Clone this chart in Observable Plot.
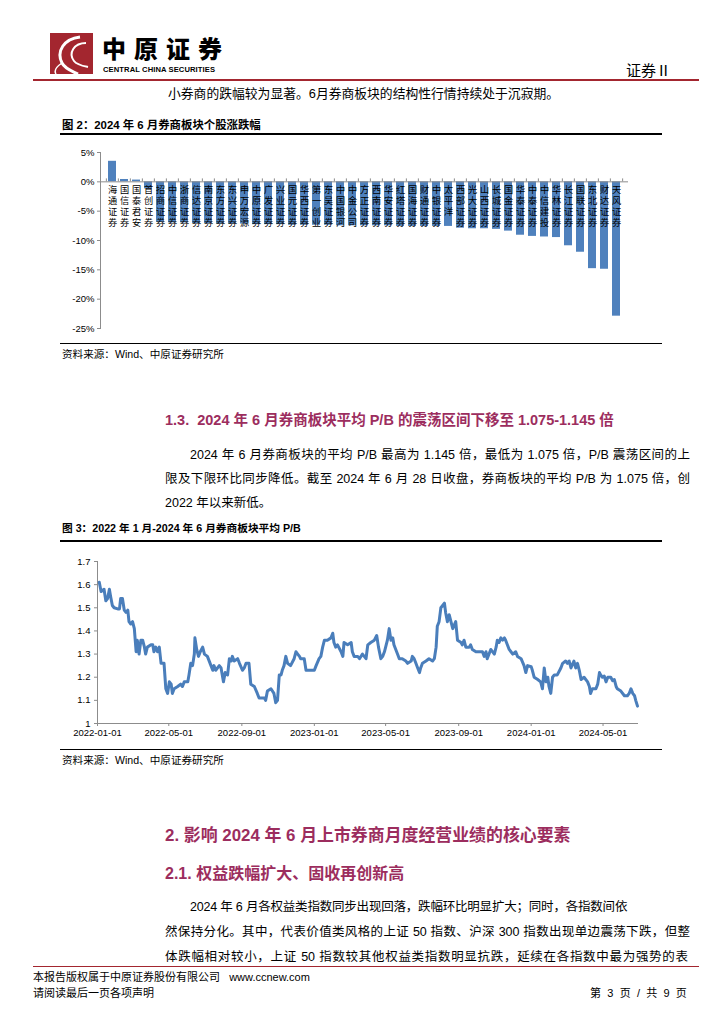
<!DOCTYPE html>
<html>
<head>
<meta charset="utf-8">
<script src="https://cdn.jsdelivr.net/npm/d3@7"></script>
<script src="https://cdn.jsdelivr.net/npm/@observablehq/plot@0.6"></script>
<style>
  html, body { margin: 0; padding: 0; background: #fff; }
  body { width: 724px; height: 1024px; position: relative; overflow: hidden;
         font-family: "Liberation Sans", "Noto Sans CJK SC", sans-serif; color: #000; }
  .abs { position: absolute; white-space: nowrap; }
  .line { position: absolute; }
  .jl { position: absolute; white-space: normal; text-align: justify; text-align-last: justify; }
  .head { color: #9c2d5e; font-weight: bold; }
  .figt { font-weight: bold; }
  .src { font-size: 10.6px; }
  .para { font-size: 12.5px; }
</style>
</head>
<body>
<!-- header -->
<svg class="abs" style="left:50px;top:33px" width="43" height="41" viewBox="0 0 43 41">
  <rect width="43" height="41" fill="#a3262f"/>
  <path d="M30 4 C14 6, 6 18, 12 30 C15 36, 22 38, 28 41" stroke="#fff" stroke-width="3" fill="none"/>
  <path d="M36 10 C24 10, 18 20, 24 28 C27 32, 33 33, 38 34" stroke="#fff" stroke-width="2" fill="none"/>
  <path d="M12 30 C6 34, 4 38, 6 41" stroke="#fff" stroke-width="1.5" fill="none"/>
</svg>
<div class="abs" style="left:102px;top:36px;font-size:24px;font-weight:900;letter-spacing:8px;font-family:'Noto Sans CJK SC';line-height:24px;">中原证券</div>
<div class="abs" style="left:103px;top:66px;font-size:7.6px;font-weight:bold;line-height:8px;letter-spacing:0.1px;">CENTRAL CHINA SECURITIES</div>
<div class="abs" style="left:626px;top:60px;font-size:15px;line-height:20px;font-family:'Noto Sans CJK SC';">证券Ⅱ</div>
<div class="line" style="left:33px;top:79px;width:666px;height:2px;background:#a3262f;"></div>

<div class="abs para" style="left:168px;top:85px;line-height:18px;font-size:12.8px;">小券商的跌幅较为显著。6月券商板块的结构性行情持续处于沉寂期。</div>

<!-- figure 2 -->
<div class="abs figt" style="left:62px;top:117px;line-height:16px;font-size:11.4px;">图 2：2024 年 6 月券商板块个股涨跌幅</div>
<div class="line" style="left:60px;top:133px;width:602px;height:2px;background:#000;"></div>
<div id="chart1" class="abs" style="left:60px;top:140px;"></div>
<div class="line" style="left:60px;top:343px;width:602px;height:1px;background:#000;"></div>
<div class="abs src" style="left:62px;top:347px;line-height:14px;">资料来源：Wind、中原证券研究所</div>

<!-- section 1.3 -->
<div class="abs head" style="left:165px;top:410px;font-size:14.5px;line-height:20px;">1.3.&nbsp;&nbsp;2024 年 6 月券商板块平均 P/B 的震荡区间下移至 1.075-1.145 倍</div>
<div class="jl para" style="left:190px;top:446px;width:500px;line-height:18px;">2024 年 6 月券商板块的平均 P/B 最高为 1.145 倍，最低为 1.075 倍，P/B 震荡区间的上</div>
<div class="jl para" style="left:165px;top:470px;width:525px;line-height:18px;">限及下限环比同步降低。截至 2024 年 6 月 28 日收盘，券商板块的平均 P/B 为 1.075 倍，创</div>
<div class="abs para" style="left:165px;top:494px;line-height:18px;">2022 年以来新低。</div>

<!-- figure 3 -->
<div class="abs figt" style="left:62px;top:520px;line-height:16px;font-size:10.7px;">图 3：2022 年 1 月-2024 年 6 月券商板块平均 P/B</div>
<div class="line" style="left:60px;top:540px;width:602px;height:2px;background:#000;"></div>
<div id="chart2" class="abs" style="left:60px;top:545px;"></div>
<div class="line" style="left:60px;top:749px;width:602px;height:1px;background:#000;"></div>
<div class="abs src" style="left:62px;top:753px;line-height:14px;">资料来源：Wind、中原证券研究所</div>

<!-- section 2 -->
<div class="abs head" style="left:165px;top:825px;font-size:16.9px;line-height:22px;">2. 影响 2024 年 6 月上市券商月度经营业绩的核心要素</div>
<div class="abs head" style="left:165px;top:864px;font-size:16px;line-height:20px;">2.1. 权益跌幅扩大、固收再创新高</div>
<div class="abs para" style="left:190px;top:898px;line-height:18px;letter-spacing:-0.2px;">2024 年 6 月各权益类指数同步出现回落，跌幅环比明显扩大；同时，各指数间依</div>
<div class="jl para" style="left:165px;top:923px;width:525px;line-height:18px;">然保持分化。其中，代表价值类风格的上证 50 指数、沪深 300 指数出现单边震荡下跌，但整</div>
<div class="jl para" style="left:165px;top:948px;width:523px;line-height:18px;">体跌幅相对较小，上证 50 指数较其他权益类指数明显抗跌，延续在各指数中最为强势的表</div>

<!-- footer -->
<div class="line" style="left:33px;top:966px;width:666px;height:1px;background:#a3262f;"></div>
<div class="abs" style="left:33px;top:970px;font-size:11px;line-height:14px;">本报告版权属于中原证券股份有限公司&nbsp;&nbsp;&nbsp;www.ccnew.com</div>
<div class="abs" style="left:33px;top:986px;font-size:11px;line-height:14px;">请阅读最后一页各项声明</div>
<div class="abs" style="left:590px;top:986px;font-size:11px;line-height:14px;letter-spacing:1.6px;">第 3 页 / 共 9 页</div>

<script>
// ---------- Figure 2: June 2024 broker stock price change (%) ----------
const brokers = ["海通证券","国信证券","国泰君安","首创证券","招商证券","中信证券","浙商证券","信达证券","南京证券","东方证券","东兴证券","申万宏源","中原证券","广发证券","兴业证券","国元证券","华西证券","第一创业","东吴证券","中国银河","中金公司","方正证券","西南证券","华安证券","红塔证券","国海证券","财通证券","中银证券","太平洋","西部证券","光大证券","山西证券","长城证券","国金证券","华泰证券","中泰证券","中信建投","华林证券","长江证券","国联证券","东北证券","财达证券","天风证券"];
const changes = [3.5,0.4,0.3,-1.2,-6.9,-7.0,-7.0,-7.1,-7.1,-7.2,-7.2,-7.2,-7.3,-7.3,-7.3,-7.4,-7.4,-7.4,-7.4,-7.5,-7.5,-7.5,-7.5,-7.5,-7.6,-7.6,-7.6,-7.6,-7.6,-7.9,-8.0,-8.0,-8.1,-8.4,-9.1,-9.3,-9.4,-9.5,-10.9,-12.0,-14.8,-14.9,-22.9];
const yTicks1 = [5,0,-5,-10,-15,-20,-25];

// ---------- Figure 3: average P/B of broker sector ----------
const pbDates = ["2022-01-04","2022-01-07","2022-01-12","2022-01-15","2022-01-18","2022-01-21","2022-01-23","2022-01-26","2022-01-29","2022-02-04","2022-02-07","2022-02-09","2022-02-12","2022-02-15","2022-02-18","2022-02-21","2022-02-23","2022-02-26","2022-03-01","2022-03-04","2022-03-07","2022-03-09","2022-03-12","2022-03-15","2022-03-18","2022-03-21","2022-03-23","2022-03-26","2022-04-01","2022-04-04","2022-04-06","2022-04-09","2022-04-12","2022-04-15","2022-04-18","2022-04-23","2022-04-26","2022-04-29","2022-05-02","2022-05-05","2022-05-07","2022-05-10","2022-05-16","2022-05-21","2022-05-24","2022-05-27","2022-06-02","2022-06-04","2022-06-07","2022-06-10","2022-06-13","2022-06-14","2022-06-17","2022-06-20","2022-06-23","2022-06-27","2022-06-30","2022-07-05","2022-07-11","2022-07-14","2022-07-16","2022-07-19","2022-07-25","2022-07-28","2022-08-01","2022-08-04","2022-08-08","2022-08-11","2022-08-14","2022-08-16","2022-08-19","2022-08-25","2022-08-28","2022-09-02","2022-09-05","2022-09-08","2022-09-13","2022-09-16","2022-09-22","2022-09-27","2022-09-30","2022-10-09","2022-10-11","2022-10-14","2022-10-20","2022-10-25","2022-10-28","2022-10-31","2022-11-03","2022-11-06","2022-11-08","2022-11-11","2022-11-14","2022-11-17","2022-11-22","2022-11-28","2022-12-01","2022-12-04","2022-12-07","2022-12-09","2022-12-15","2022-12-18","2022-12-20","2022-12-26","2023-01-01","2023-01-04","2023-01-09","2023-01-12","2023-01-15","2023-01-18","2023-01-23","2023-01-29","2023-02-01","2023-02-03","2023-02-06","2023-02-09","2023-02-15","2023-02-18","2023-02-20","2023-02-26","2023-03-04","2023-03-06","2023-03-09","2023-03-15","2023-03-18","2023-03-23","2023-03-29","2023-04-01","2023-04-06","2023-04-12","2023-04-16","2023-04-19","2023-04-23","2023-04-26","2023-04-29","2023-05-04","2023-05-07","2023-05-10","2023-05-13","2023-05-15","2023-05-21","2023-05-24","2023-05-29","2023-06-04","2023-06-07","2023-06-13","2023-06-15","2023-06-18","2023-06-21","2023-06-24","2023-06-27","2023-06-29","2023-07-02","2023-07-08","2023-07-13","2023-07-19","2023-07-22","2023-07-25","2023-07-27","2023-07-30","2023-08-02","2023-08-05","2023-08-08","2023-08-10","2023-08-13","2023-08-16","2023-08-19","2023-08-22","2023-08-27","2023-08-30","2023-09-05","2023-09-07","2023-09-10","2023-09-13","2023-09-19","2023-09-21","2023-09-24","2023-09-30","2023-10-05","2023-10-11","2023-10-14","2023-10-17","2023-10-19","2023-10-25","2023-10-31","2023-11-03","2023-11-05","2023-11-08","2023-11-11","2023-11-14","2023-11-17","2023-11-19","2023-11-25","2023-11-28","2023-12-01","2023-12-06","2023-12-09","2023-12-15","2023-12-20","2023-12-23","2023-12-26","2024-01-01","2024-01-03","2024-01-06","2024-01-12","2024-01-17","2024-01-20","2024-01-23","2024-01-26","2024-01-29","2024-01-31","2024-02-03","2024-02-06","2024-02-09","2024-02-14","2024-02-20","2024-02-23","2024-02-28","2024-03-02","2024-03-05","2024-03-08","2024-03-13","2024-03-16","2024-03-19","2024-03-22","2024-03-25","2024-03-30","2024-04-05","2024-04-08","2024-04-10","2024-04-13","2024-04-19","2024-04-22","2024-04-25","2024-04-27","2024-04-30","2024-05-03","2024-05-06","2024-05-09","2024-05-14","2024-05-17","2024-05-20","2024-05-23","2024-05-25","2024-05-31","2024-06-06","2024-06-11","2024-06-14","2024-06-17","2024-06-20","2024-06-23","2024-06-25","2024-06-28"];
const pbValues = [1.61,1.57,1.58,1.53,1.54,1.58,1.55,1.51,1.50,1.495,1.495,1.54,1.54,1.49,1.48,1.49,1.44,1.43,1.44,1.41,1.31,1.36,1.30,1.36,1.36,1.33,1.30,1.33,1.34,1.34,1.31,1.33,1.31,1.33,1.26,1.26,1.15,1.13,1.18,1.17,1.13,1.15,1.16,1.17,1.16,1.18,1.18,1.21,1.26,1.25,1.30,1.37,1.32,1.29,1.31,1.33,1.30,1.29,1.25,1.23,1.25,1.23,1.25,1.24,1.18,1.22,1.21,1.28,1.27,1.29,1.27,1.28,1.26,1.23,1.24,1.26,1.26,1.17,1.16,1.13,1.11,1.11,1.10,1.14,1.15,1.13,1.09,1.10,1.21,1.21,1.23,1.25,1.29,1.26,1.25,1.28,1.31,1.30,1.29,1.28,1.28,1.23,1.23,1.23,1.23,1.25,1.28,1.29,1.33,1.36,1.36,1.37,1.39,1.35,1.33,1.34,1.31,1.29,1.35,1.34,1.35,1.31,1.29,1.29,1.28,1.30,1.28,1.34,1.35,1.36,1.38,1.33,1.28,1.29,1.31,1.36,1.41,1.36,1.37,1.34,1.30,1.28,1.28,1.27,1.26,1.27,1.29,1.28,1.26,1.24,1.22,1.24,1.26,1.27,1.28,1.27,1.28,1.33,1.42,1.44,1.50,1.51,1.52,1.48,1.44,1.47,1.44,1.41,1.44,1.36,1.35,1.34,1.36,1.33,1.33,1.34,1.32,1.31,1.31,1.31,1.29,1.31,1.28,1.32,1.30,1.33,1.36,1.35,1.37,1.36,1.37,1.36,1.32,1.31,1.30,1.31,1.29,1.28,1.25,1.22,1.25,1.245,1.23,1.20,1.19,1.18,1.15,1.24,1.18,1.20,1.16,1.13,1.20,1.21,1.21,1.24,1.26,1.27,1.26,1.27,1.24,1.27,1.24,1.26,1.23,1.19,1.20,1.18,1.16,1.13,1.15,1.15,1.17,1.22,1.21,1.20,1.205,1.18,1.20,1.20,1.185,1.19,1.16,1.15,1.14,1.12,1.12,1.13,1.15,1.13,1.12,1.10,1.075];
const xTickDates = ["2022-01-01","2022-05-01","2022-09-01","2023-01-01","2023-05-01","2023-09-01","2024-01-01","2024-05-01"];
const yTicks2 = [1,1.1,1.2,1.3,1.4,1.5,1.6,1.7];

const barColor = "#4f81bd";
const axisColor = "#8c8c8c";

// ---- chart 1
const barData = brokers.map((name, i) => ({name, value: changes[i]}));
const w1 = 602, ml1 = 40, mr1 = 34;
const step1 = (w1 - ml1 - mr1) / brokers.length;
const labelMarks = [0, 1, 2, 3].map(k =>
  Plot.text(barData, {x: "name", y: 0, text: d => d.name[k] || "", lineAnchor: "top", dy: 5 + k * 10.8,
    fontSize: 9.2, fill: "#000", fontFamily: "'Noto Sans CJK SC'"}));
const chart1 = Plot.plot({
  width: w1, height: 200,
  marginLeft: ml1, marginRight: mr1, marginTop: 12, marginBottom: 12,
  style: {fontFamily: "'Liberation Sans', 'Noto Sans CJK SC', sans-serif", fontSize: "9.5px", color: "#000", background: "transparent"},
  x: {domain: brokers, padding: 0.33, axis: null},
  y: {domain: [-25, 5], label: null},
  marks: [
    Plot.barY(barData, {x: "name", y: "value", fill: barColor}),
    Plot.ruleY([0], {stroke: axisColor}),
    Plot.ruleX(brokers, {x: d => d, y1: 0, y2: 0.5, dx: -step1 / 2, stroke: axisColor}),
    Plot.ruleX(brokers.slice(-1), {x: d => d, y1: 0, y2: 0.5, dx: step1 / 2, stroke: axisColor}),
    Plot.frame({anchor: "left", stroke: axisColor}),
    Plot.axisY({ticks: yTicks1, tickFormat: d => d + "%", tickSize: 3, tickPadding: 3, stroke: axisColor, fill: "#000", fontSize: 9.5, label: null}),
    ...labelMarks
  ]
});
document.getElementById("chart1").appendChild(chart1);

// ---- chart 2
const pbData = pbDates.map((d, i) => ({date: new Date(d), pb: pbValues[i]}));
const chart2 = Plot.plot({
  width: 602, height: 200,
  marginLeft: 37, marginRight: 25, marginTop: 16, marginBottom: 22,
  style: {fontFamily: "'Liberation Sans', sans-serif", fontSize: "9.5px", color: "#000", background: "transparent"},
  x: {type: "utc", domain: [new Date("2022-01-01"), new Date("2024-06-28")], label: null},
  y: {domain: [1, 1.7], label: null},
  marks: [
    Plot.frame({anchor: "left", stroke: axisColor}),
    Plot.frame({anchor: "bottom", stroke: axisColor}),
    Plot.axisY({ticks: yTicks2, tickFormat: d => d === 1 ? "1" : d.toFixed(1), tickSize: 3, tickPadding: 4, stroke: axisColor, fill: "#000", fontSize: 9.5, label: null}),
    Plot.axisX({ticks: xTickDates.map(d => new Date(d)), tickFormat: d3.utcFormat("%Y-%m-%d"), tickSize: 3, tickPadding: 3, stroke: axisColor, fill: "#000", fontSize: 9.5, label: null}),
    Plot.lineY(pbData, {x: "date", y: "pb", stroke: "#4a7ebb", strokeWidth: 3, strokeLinejoin: "round"})
  ]
});
document.getElementById("chart2").appendChild(chart2);
</script>
</body>
</html>
